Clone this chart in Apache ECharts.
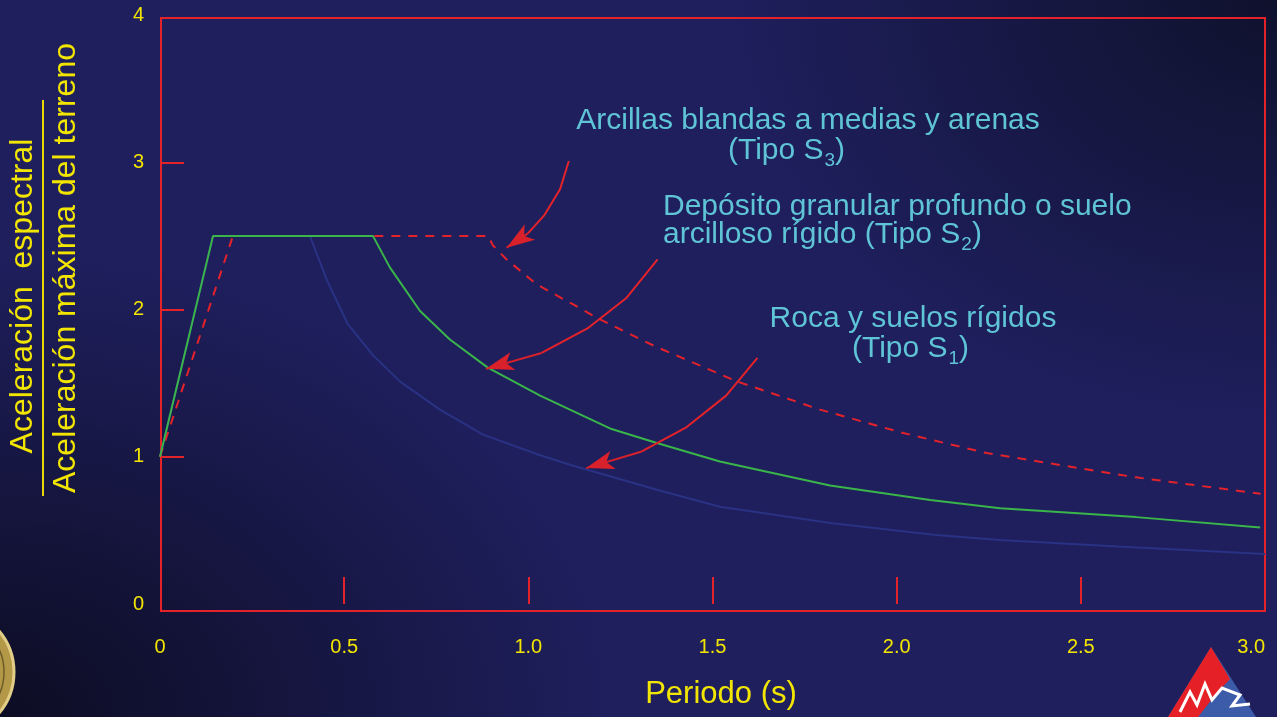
<!DOCTYPE html>
<html>
<head>
<meta charset="utf-8">
<script src="https://cdn.jsdelivr.net/npm/echarts@6/dist/echarts.min.js"></script>
<style>
  html, body { margin: 0; padding: 0; }
  body {
    width: 1277px; height: 717px; overflow: hidden;
    background:
      radial-gradient(ellipse 560px 430px at 1277px 0px, rgba(14,17,42,0.95), rgba(14,17,42,0) 100%),
      radial-gradient(ellipse 620px 470px at 0px 717px, rgba(12,12,34,0.98), rgba(12,12,34,0) 100%),
      #1f1f5e;
  }
  #chart { width: 1277px; height: 717px; }
</style>
</head>
<body>
<div id="chart"></div>
<script>
// Axis ticks and their printed labels
const periodTickLabels = ['0', '0.5', '1.0', '1.5', '2.0', '2.5', '3.0'];
const ratioTickLabels = ['0', '1', '2', '3', '4'];

// Normalised spectral shapes: [period (s), Sa / PGA]
const sueloS1 = [[0, 1], [0.144, 2.5], [0.407, 2.5], [0.453, 2.2], [0.51, 1.90], [0.578, 1.69],
  [0.652, 1.51], [0.76, 1.32], [0.877, 1.15], [1.032, 1.01], [1.113, 0.946], [1.349, 0.776],
  [1.52, 0.66], [1.82, 0.55], [2.10, 0.47], [2.28, 0.435], [2.60, 0.39], [3.0, 0.34]];
const sueloS2 = [[0, 1], [0.144, 2.5], [0.578, 2.5], [0.624, 2.286], [0.706, 1.99], [0.787, 1.796],
  [0.89, 1.605], [1.032, 1.415], [1.113, 1.32], [1.226, 1.188], [1.349, 1.093], [1.52, 0.968],
  [1.819, 0.805], [2.091, 0.707], [2.281, 0.651], [2.65, 0.59], [2.987, 0.519]];
const sueloS3 = [[0, 1], [0.198, 2.5], [0.891, 2.5], [0.904, 2.435], [0.941, 2.34], [1.023, 2.17],
  [1.122, 2.034], [1.186, 1.944], [1.344, 1.75], [1.566, 1.512], [1.792, 1.32], [2.018, 1.161],
  [2.244, 1.025], [2.65, 0.86], [2.988, 0.748]];

// Pointer arrows from each label to its curve (last point is the tip)
const flechaS3 = [[1.110, 3.009], [1.086, 2.816], [1.043, 2.639], [0.999, 2.517], [0.941, 2.420]];
const flechaS2 = [[1.351, 2.340], [1.267, 2.080], [1.163, 1.876], [1.036, 1.705], [0.885, 1.597]];
const flechaS1 = [[1.622, 1.671], [1.537, 1.415], [1.430, 1.202], [1.308, 1.036], [1.157, 0.923]];

const RED = '#e4222a';
const YELLOW = '#f2e500';
const CYAN = '#5ec4d6';
const FONT = '"Liberation Sans", Arial, Helvetica, sans-serif';

const flechas = [flechaS3, flechaS2, flechaS1];

const chart = echarts.init(document.getElementById('chart'), null, { renderer: 'canvas' });

function labelLine(x, y, align, parts) {
  // parts: text with {s|n} tokens for subscripts
  return {
    type: 'text', x: x, y: y, z: 20,
    style: {
      text: parts, align: align, verticalAlign: 'middle',
      fill: CYAN, font: '30px ' + FONT,
      rich: {
        m: { fontSize: 30, lineHeight: 30, verticalAlign: 'top', fontFamily: FONT, fill: CYAN, color: CYAN },
        s: { fontSize: 19, verticalAlign: 'top', padding: [15, 0, 0, 1], fontFamily: FONT, fill: CYAN, color: CYAN }
      }
    }
  };
}

const option = {
  animation: false,
  backgroundColor: 'transparent',
  grid: [
    { left: 161, right: 12, top: 18, bottom: 106, show: true, borderColor: RED, borderWidth: 2, backgroundColor: 'transparent' },
    { left: 160, right: 12, top: 15, bottom: 113 }
  ],
  xAxis: [
    { gridIndex: 0, type: 'value', min: 0, max: 1, show: false },
    {
      gridIndex: 1, type: 'value', min: 0, max: 3, interval: 0.5, offset: 4,
      axisLine: { show: false },
      splitLine: { show: false },
      axisTick: { show: true, inside: true, length: 27, lineStyle: { color: RED, width: 2 }, customValues: [0.5, 1, 1.5, 2, 2.5] },
      axisLabel: {
        color: YELLOW, fontSize: 20, fontFamily: FONT, margin: 29, alignMaxLabel: 'right',
        formatter: v => periodTickLabels[Math.round(v * 2)]
      },
      name: 'Periodo (s)', nameLocation: 'middle', nameGap: 71,
      nameTextStyle: { color: YELLOW, fontSize: 31, fontFamily: FONT, padding: [0, 0, 0, 17] }
    }
  ],
  yAxis: [
    { gridIndex: 0, type: 'value', min: 0, max: 1, show: false },
    {
      gridIndex: 1, type: 'value', min: 0, max: 4, interval: 1,
      axisLine: { show: false },
      splitLine: { show: false },
      axisTick: { show: true, inside: true, length: 24, lineStyle: { color: RED, width: 2 }, customValues: [1, 2, 3] },
      axisLabel: {
        color: YELLOW, fontSize: 20, fontFamily: FONT, margin: 16,
        formatter: v => ratioTickLabels[Math.round(v)]
      }
    }
  ],
  series: [
    {
      name: 'Tipo S1', type: 'line', xAxisIndex: 1, yAxisIndex: 1, data: sueloS1,
      symbol: 'none', showSymbol: false, silent: true, z: 2,
      lineStyle: { color: '#2a3284', width: 2 }
    },
    {
      name: 'Tipo S3', type: 'line', xAxisIndex: 1, yAxisIndex: 1, data: sueloS3,
      symbol: 'none', showSymbol: false, silent: true, z: 3,
      lineStyle: { color: RED, width: 2, type: [9, 8] }
    },
    {
      name: 'Tipo S2', type: 'line', xAxisIndex: 1, yAxisIndex: 1, data: sueloS2,
      symbol: 'none', showSymbol: false, silent: true, z: 4,
      lineStyle: { color: '#3ab54a', width: 2 }
    },
    ...flechas.map(f => ({
      type: 'line', xAxisIndex: 1, yAxisIndex: 1, data: f.slice(0, -1),
      symbol: 'none', showSymbol: false, silent: true, z: 6,
      lineStyle: { color: RED, width: 2 }
    })),
    {
      type: 'lines', coordinateSystem: 'cartesian2d', xAxisIndex: 1, yAxisIndex: 1, z: 7, silent: true,
      data: flechas.map(f => ({ coords: [f[f.length - 2], f[f.length - 1]] })),
      symbol: ['none', 'arrow'], symbolSize: [1, [14, 28]],
      lineStyle: { color: '#d8212a', width: 2, opacity: 1, curveness: 0 }
    }
  ],
  graphic: [
    // Annotations
    labelLine(808, 121, 'center', '{m|Arcillas blandas a medias y arenas}'),
    labelLine(786.5, 153, 'center', '{m|(Tipo S}{s|3}{m|)}'),
    labelLine(663, 207, 'left', '{m|Depósito granular profundo o suelo}'),
    labelLine(663, 237, 'left', '{m|arcilloso rígido (Tipo S}{s|2}{m|)}'),
    labelLine(913, 319, 'center', '{m|Roca y suelos rígidos}'),
    labelLine(910.5, 351, 'center', '{m|(Tipo S}{s|1}{m|)}'),
    // Y axis title as a fraction
    {
      type: 'text', x: 23.5, y: 296, rotation: Math.PI / 2, z: 20,
      style: { text: 'Aceleración  espectral', align: 'center', verticalAlign: 'middle', fill: YELLOW, font: '32px ' + FONT }
    },
    {
      type: 'line', z: 20,
      shape: { x1: 43, y1: 100, x2: 43, y2: 496 },
      style: { stroke: '#e6d800', lineWidth: 2 }
    },
    {
      type: 'text', x: 66, y: 268, rotation: Math.PI / 2, z: 20,
      style: { text: 'Aceleración máxima del terreno', align: 'center', verticalAlign: 'middle', fill: YELLOW, font: '32px ' + FONT }
    },
    // Seal, bottom-left corner
    {
      type: 'circle', z: 1, shape: { cx: -50, cy: 672, r: 64 },
      style: { fill: '#b39848', stroke: '#e2cd86', lineWidth: 3 }
    },
    {
      type: 'circle', z: 1, shape: { cx: -50, cy: 672, r: 54 },
      style: { fill: 'none', stroke: '#6d5a2a', lineWidth: 1.5 }
    },
    // Emblem, bottom-right corner
    {
      type: 'polygon', z: 1,
      shape: { points: [[1211, 647], [1168, 717], [1256, 717]] },
      style: { fill: '#3c5ba9' }
    },
    {
      type: 'polygon', z: 1,
      shape: { points: [[1211, 647], [1168, 717], [1198, 717], [1216, 694], [1230, 679]] },
      style: { fill: '#e52027' }
    },
    {
      type: 'polyline', z: 2,
      shape: { points: [[1180, 712], [1190, 692], [1197, 705], [1205, 684], [1212, 700], [1222, 688], [1240, 695], [1232, 706], [1250, 704]] },
      style: { stroke: '#ffffff', lineWidth: 3, fill: 'none' }
    }
  ]
};

chart.setOption(option);
</script>
</body>
</html>
